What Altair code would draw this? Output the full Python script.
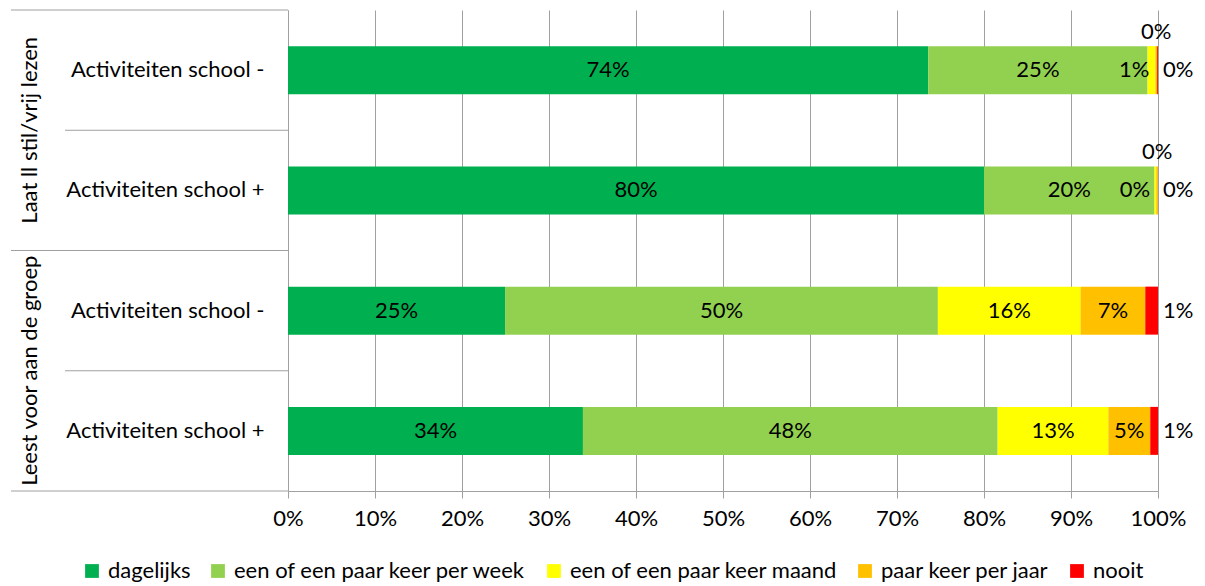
import altair as alt
import pandas as pd

groups = ["Laat ll stil/vrij lezen", "Laat ll stil/vrij lezen",
          "Leest voor aan de groep", "Leest voor aan de groep"]
subs = ["Activiteiten school -", "Activiteiten school +",
        "Activiteiten school -", "Activiteiten school +"]
categories = ["dagelijks", "een of een paar keer per week",
              "een of een paar keer maand", "paar keer per jaar", "nooit"]
colors = ["#00B050", "#92D050", "#FFFF00", "#FFC000", "#FF0000"]
dagelijks = [73.6, 80.0, 24.95, 33.9]
per_week = [25.2, 19.6, 49.75, 47.67]
per_maand = [0.9, 0.2, 16.4, 12.72]
per_jaar = [0.2, 0.2, 7.44, 4.82]
nooit = [0.1, 0.0, 1.46, 0.89]
x_ticks = [0, 10, 20, 30, 40, 50, 60, 70, 80, 90, 100]

FONT = "Lato"
FS = 22
GRAY = "#A0A0A0"

series = [dagelijks, per_week, per_maand, per_jaar, nooit]
keys = [f"{g}|{s}" for g, s in zip(groups, subs)]

recs = []
for i, k in enumerate(keys):
    start = 0.0
    for c, vals in zip(categories, series):
        v = vals[i]
        end = start + v
        if c == "nooit":
            place = "right"
        elif c == "paar keer per jaar" and v < 1:
            place = "above"
        elif c == "een of een paar keer maand" and v < 3:
            place = "left"
        else:
            place = "center"
        recs.append(dict(key=k, cat=c, value=v, start=start, end=end,
                         mid=(start + end) / 2, label=f"{round(v)}%", place=place))
        start = end
df = pd.DataFrame(recs)

rows = pd.DataFrame(dict(key=keys, group=groups,
                         gstart=[i == 0 or groups[i] != groups[i - 1] for i in range(len(keys))],
                         last=[i == len(keys) - 1 for i in range(len(keys))]))

yscale = alt.Scale(domain=keys, paddingInner=0, paddingOuter=0)
y_enc = alt.Y("key:N", sort=keys, scale=yscale, title=None,
              axis=alt.Axis(labelExpr="split(datum.label, '|')[1]", domain=True,
                            domainColor=GRAY, ticks=False, grid=False, labelPadding=24,
                            labelFont=FONT, labelFontSize=FS, labelColor="black",
                            labelLimit=400))
y_plain = alt.Y("key:N", sort=keys, scale=yscale)

bars = alt.Chart(df).mark_bar(size=48).encode(
    x=alt.X("start:Q", scale=alt.Scale(domain=[0, 100]), title=None,
            axis=alt.Axis(values=x_ticks, labelExpr="datum.value + '%'", grid=True,
                          gridColor=GRAY, domainColor=GRAY, tickColor=GRAY, tickSize=7,
                          labelFont=FONT, labelFontSize=FS, labelColor="black",
                          labelPadding=10, labelFlush=False, labelAlign="center")),
    x2="end:Q",
    y=y_enc,
    color=alt.Color("cat:N", scale=alt.Scale(domain=categories, range=colors),
                    legend=alt.Legend(title=None, orient="none", legendX=-207, legendY=550,
                                      padding=0, direction="horizontal", symbolType="square",
                                      symbolSize=190, symbolStrokeWidth=0,
                                      labelFont=FONT, labelFontSize=FS, labelColor="black",
                                      labelOffset=5, columnPadding=16, labelLimit=500)),
)

txt = dict(font=FONT, fontSize=FS, color="black", baseline="middle")
t_center = alt.Chart(df).mark_text(align="center", **txt).encode(
    x="mid:Q", y=y_plain, text="label:N").transform_filter("datum.place == 'center'")
t_left = alt.Chart(df).mark_text(align="right", dx=-6, **txt).encode(
    x="end:Q", y=y_plain, text="label:N").transform_filter("datum.place == 'left'")
t_right = alt.Chart(df).mark_text(align="left", dx=5, **txt).encode(
    x="end:Q", y=y_plain, text="label:N").transform_filter("datum.place == 'right'")
t_above = alt.Chart(df).mark_text(align="center", dy=-38, **txt).encode(
    x="mid:Q", y=y_plain, text="label:N").transform_filter("datum.place == 'above'")

rule_g = alt.Chart(rows).mark_rule(color=GRAY).encode(
    y=alt.Y("key:N", sort=keys, scale=yscale, bandPosition=0),
    x=alt.value(-277), x2=alt.value(0)).transform_filter("datum.gstart")
rule_s = alt.Chart(rows).mark_rule(color=GRAY).encode(
    y=alt.Y("key:N", sort=keys, scale=yscale, bandPosition=0),
    x=alt.value(-223), x2=alt.value(0)).transform_filter("!datum.gstart")
rule_end = alt.Chart(rows).mark_rule(color=GRAY).encode(
    y=alt.Y("key:N", sort=keys, scale=yscale, bandPosition=1),
    x=alt.value(-277), x2=alt.value(0)).transform_filter("datum.last")

glabel = alt.Chart(rows).mark_text(angle=270, align="center", **txt).encode(
    y=alt.Y("key:N", sort=keys, scale=yscale, bandPosition=1),
    x=alt.value(-258), text="group:N").transform_filter("datum.gstart")

chart = alt.layer(bars, t_center, t_left, t_right, t_above,
                  rule_g, rule_s, rule_end, glabel).properties(
    width=870, height=481,
    padding={"left": 2, "top": 1, "right": 2, "bottom": 2},
).configure_view(stroke=None)

chart.save("out.html", embed_options={"renderer": "svg", "actions": False})
